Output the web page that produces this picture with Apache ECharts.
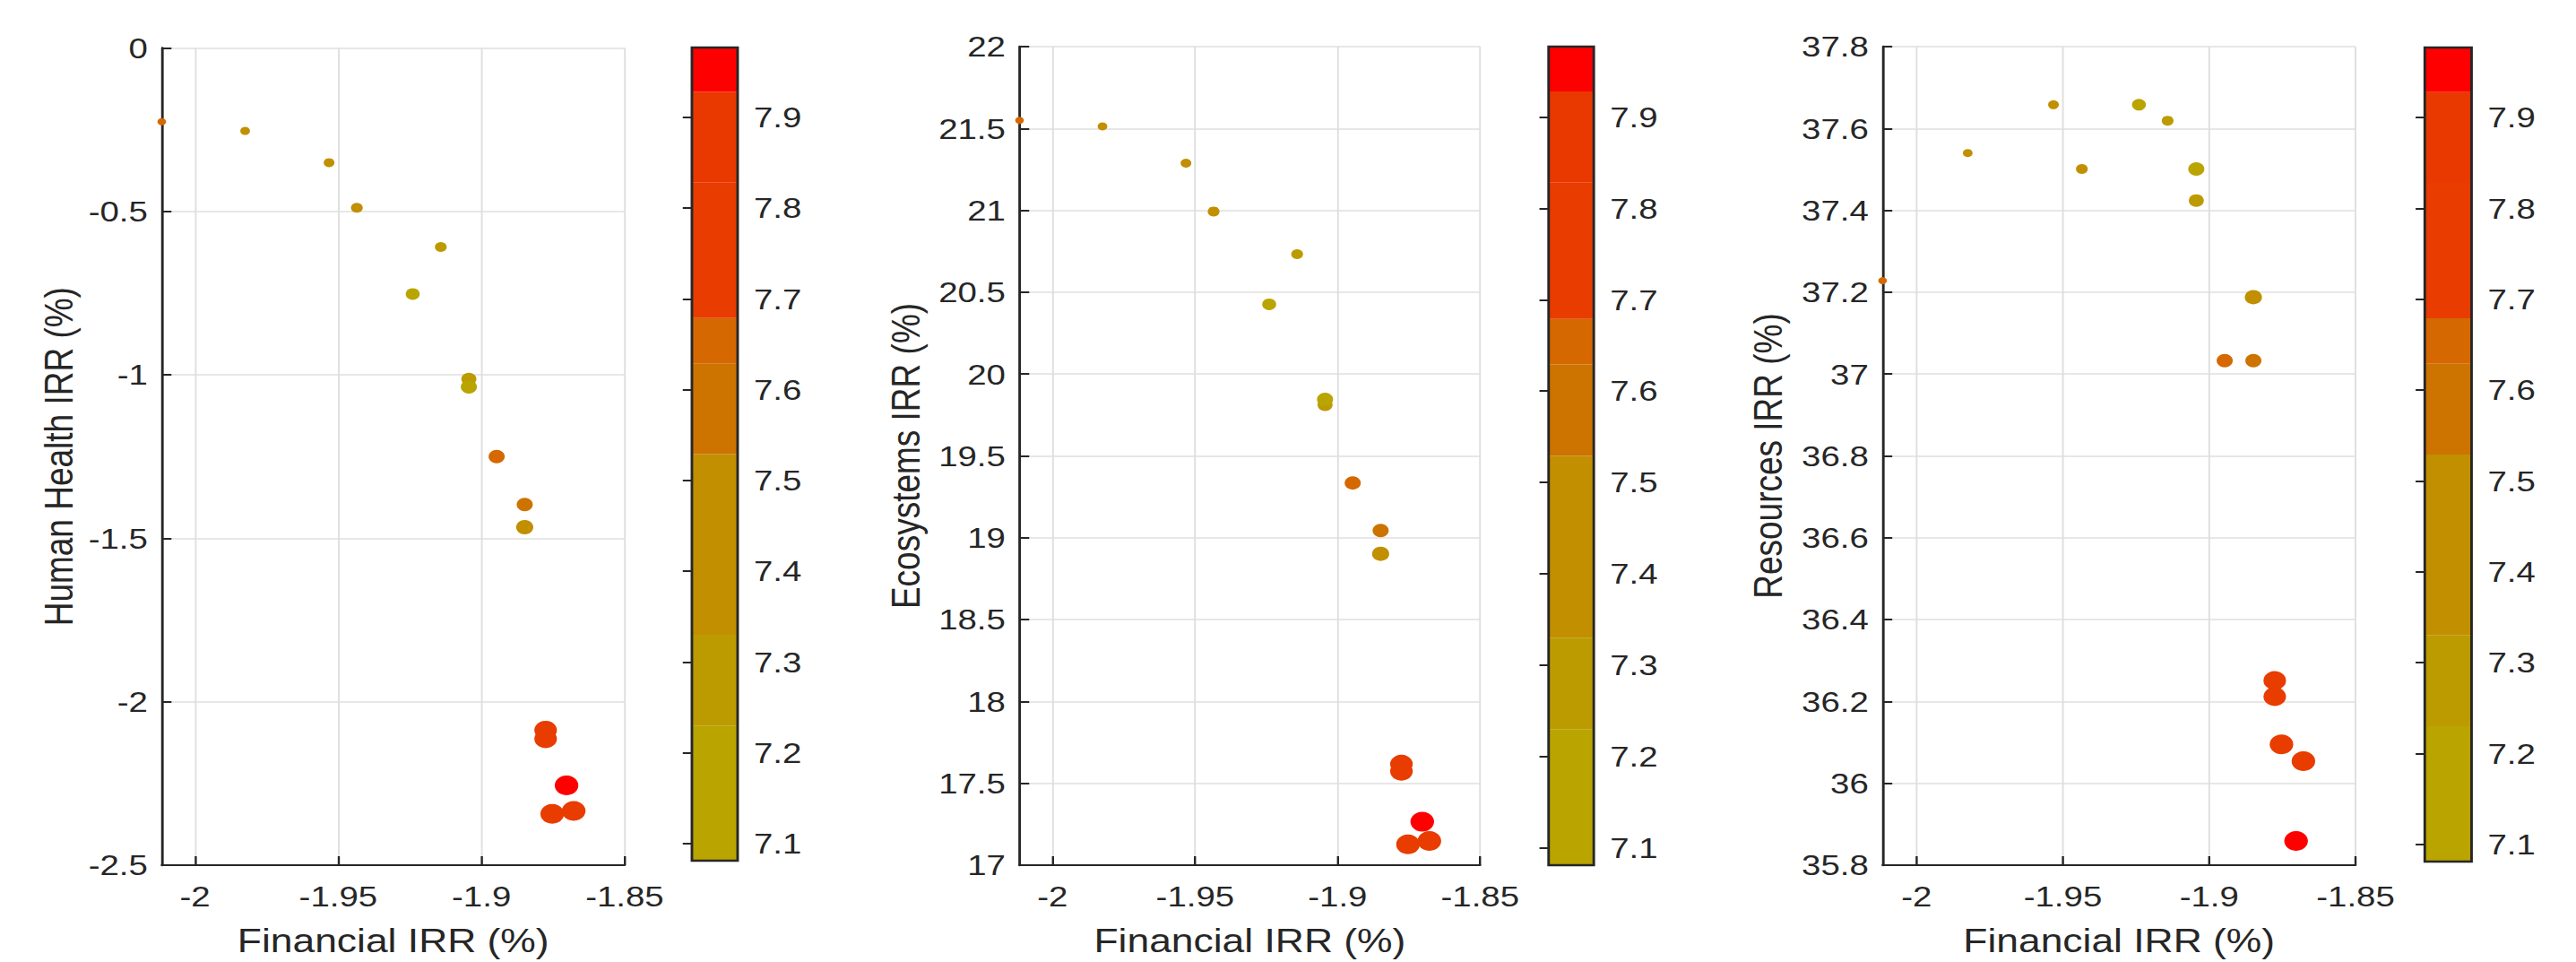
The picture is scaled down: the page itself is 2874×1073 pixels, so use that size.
<!DOCTYPE html>
<html>
<head>
<meta charset="utf-8">
<title>IRR trade-offs</title>
<script src="https://cdn.jsdelivr.net/npm/echarts@6/dist/echarts.min.js"></script>
<style>
  html, body { margin: 0; padding: 0; background: #fff; overflow: hidden; }
  /* the reference figure is stretched sideways, so draw it narrower and stretch it back */
  #chartWrapper { width: 2395px; height: 1073px; transform: scaleX(1.2); transform-origin: 0 0; }
</style>
</head>
<body>
<div id="chartWrapper"></div>
<script>
// x 軸: Financial IRR (%)
const finIRR = [-2.0116, -1.9825, -1.9532, -1.9435, -1.9142, -1.9240, -1.9044, -1.9044,
                -1.8947, -1.8849, -1.8849, -1.8776, -1.8776, -1.8703, -1.8753, -1.8678];
// y 軸 (三張圖)
const healthIRR = [-0.226, -0.254, -0.351, -0.489, -0.609, -0.753, -1.013, -1.037,
                   -1.250, -1.397, -1.466, -2.087, -2.113, -2.256, -2.343, -2.334];
const ecoIRR = [21.550, 21.513, 21.288, 20.993, 20.732, 20.426, 19.812, 19.845,
                19.335, 19.044, 18.902, 17.617, 17.574, 17.265, 17.127, 17.148];
const resIRR = [37.228, 37.540, 37.658, 37.501, 37.619, 37.658, 37.424, 37.501,
                37.033, 37.033, 37.188, 36.251, 36.212, 35.859, 36.095, 36.054];
// 顏色值 (colorbar) 與點大小
const colorValue = [7.655, 7.45, 7.38, 7.46, 7.28, 7.15, 7.30, 7.081,
                    7.655, 7.58, 7.40, 7.75, 7.75, 7.977, 7.80, 7.80];
const markerSize = [8, 9, 10, 11, 11, 13, 14, 15, 15, 15, 16, 21, 21, 22, 22, 22];

// colorbar 色階
const bandLow = [7.081, 7.230, 7.330, 7.529, 7.629, 7.679, 7.828, 7.928];
const bandHigh = [7.230, 7.330, 7.529, 7.629, 7.679, 7.828, 7.928, 7.977];
const bandColor = ["#B9A400", "#BC9B00", "#C18F00", "#CC7300", "#D56800", "#E83C00", "#E93800", "#FF0000"];

const finTicks = [-2, -1.95, -1.9, -1.85];
const barTicks = [7.1, 7.2, 7.3, 7.4, 7.5, 7.6, 7.7, 7.8, 7.9];

const fontFamily = "'Liberation Sans', Arial, Helvetica, sans-serif";
const ink = "#262626";

const plots = [
	{ name: "Human Health IRR (%)", values: healthIRR, min: -2.5, max: 0, interval: 0.5, nameGap: 77,
	  grid: { left: 150.4, top: 53.4, width: 430.4, height: 915.3 },
	  bar: { left: 643.3, top: 53, width: 42.5, height: 907 } },
	{ name: "Ecosystems IRR (%)", values: ecoIRR, min: 17, max: 22, interval: 0.5, nameGap: 87,
	  grid: { left: 947.9, top: 52, width: 428.2, height: 913 },
	  bar: { left: 1439.8, top: 52, width: 42, height: 913 } },
	{ name: "Resources IRR (%)", values: resIRR, min: 35.8, max: 37.8, interval: 0.2, nameGap: 88,
	  grid: { left: 1750.3, top: 52, width: 439.7, height: 915 },
	  bar: { left: 2254.4, top: 53, width: 43.5, height: 908 } },
];

const myChart = echarts.init(document.getElementById("chartWrapper"), null, { renderer: "svg" });

let grids = [], xAxes = [], yAxes = [], series = [];

plots.forEach((plot, i) => {
	grids.push({ ...plot.grid });
	grids.push({ ...plot.bar, show: true, z: 3, borderColor: ink, borderWidth: 2.4, backgroundColor: "transparent" });

	// 散佈圖座標軸
	xAxes.push({
		type: "value", gridIndex: 2 * i, min: -2.0116, max: -1.85,
		name: "Financial IRR (%)", nameLocation: "middle", nameGap: 66,
		nameTextStyle: { fontFamily: fontFamily, fontSize: 37, color: ink },
		axisLine: { show: true, onZero: false, lineStyle: { color: ink, width: 2.2 } },
		axisTick: { show: true, inside: true, length: 10, customValues: finTicks, lineStyle: { color: ink, width: 2 } },
		axisLabel: { customValues: finTicks, margin: 19, fontFamily: fontFamily, fontSize: 32, color: ink },
		splitLine: { show: true, lineStyle: { color: "#DFDFDF", width: 1.6 } },
	});
	yAxes.push({
		type: "value", gridIndex: 2 * i, min: plot.min, max: plot.max, interval: plot.interval,
		name: plot.name, nameLocation: "middle", nameGap: plot.nameGap,
		nameTextStyle: { fontFamily: fontFamily, fontSize: 37, color: ink },
		axisLine: { show: true, onZero: false, lineStyle: { color: ink, width: 2.4 } },
		axisTick: { show: true, inside: true, length: 9, lineStyle: { color: ink, width: 2 } },
		axisLabel: { margin: 13, fontFamily: fontFamily, fontSize: 32, color: ink },
		splitLine: { show: true, lineStyle: { color: "#DFDFDF", width: 1.6 } },
	});

	// colorbar 座標軸
	xAxes.push({ type: "value", gridIndex: 2 * i + 1, min: 0, max: 1, show: false });
	yAxes.push({
		type: "value", gridIndex: 2 * i + 1, position: "right", min: 7.081, max: 7.977,
		axisLine: { show: false },
		axisTick: { show: true, inside: true, length: 8.5, customValues: barTicks, lineStyle: { color: ink, width: 2 } },
		axisLabel: { customValues: barTicks, margin: 15, fontFamily: fontFamily, fontSize: 32, color: ink },
		splitLine: { show: false },
	});

	series.push({
		type: "scatter",
		xAxisIndex: 2 * i, yAxisIndex: 2 * i,
		clip: false,
		symbolSize: (v) => v[3],
		itemStyle: { opacity: 1 },
		data: finIRR.map((x, k) => [x, plot.values[k], colorValue[k], markerSize[k]]),
	});
	series.push({
		type: "custom",
		xAxisIndex: 2 * i + 1, yAxisIndex: 2 * i + 1,
		silent: true,
		renderItem: (params, api) => {
			const p0 = api.coord([0, api.value(0)]);
			const p1 = api.coord([1, api.value(1)]);
			return {
				type: "rect",
				shape: { x: p0[0], y: p1[1], width: p1[0] - p0[0], height: p0[1] - p1[1] },
				style: api.style(),
			};
		},
		data: bandLow.map((low, k) => ({ value: [low, bandHigh[k]], itemStyle: { color: bandColor[k] } })),
	});
});

let option = {
	backgroundColor: "#fff",
	animation: false,
	grid: grids,
	xAxis: xAxes,
	yAxis: yAxes,
	visualMap: {
		type: "piecewise",
		show: false,
		dimension: 2,
		seriesIndex: [0, 2, 4],
		pieces: bandLow.map((low, k) => ({ gte: low, lt: k === bandLow.length - 1 ? 100 : bandHigh[k], color: bandColor[k] })),
	},
	series: series,
};

myChart.setOption(option);
</script>
</body>
</html>
